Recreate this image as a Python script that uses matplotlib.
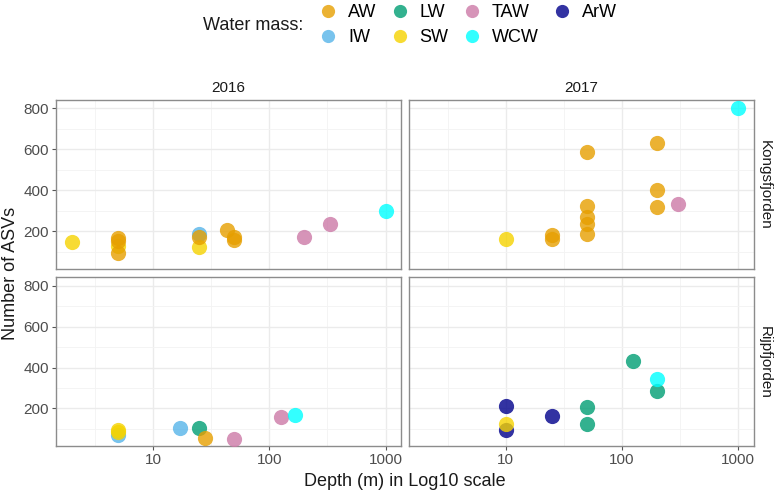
import matplotlib
matplotlib.use("Agg")
import matplotlib.pyplot as plt
from matplotlib.lines import Line2D
from matplotlib.ticker import FixedLocator, NullFormatter

plt.rcParams["font.family"] = ["Liberation Sans", "DejaVu Sans"]

# water masses, in legend order, with colours
masses = ["AW", "LW", "TAW", "ArW", "IW", "SW", "WCW"]
colours = {
    "AW": "#E69F00", "LW": "#009E73", "TAW": "#CC79A7", "ArW": "#00008B",
    "IW": "#56B4E9", "SW": "#F5D300", "WCW": "#00FFFF",
}
draw_order = ["ArW", "IW", "SW", "LW", "AW", "TAW", "WCW"]

years = ["2016", "2017"]
fjords = ["Kongsfjorden", "Rijpfjorden"]

# (fjord, year) -> water mass -> (depths, ASVs)
kongs_2016 = {
    "SW": ([2, 5, 25], [148, 125, 124]),
    "AW": ([5, 5, 5, 25, 43, 50, 50], [165, 150, 95, 172, 205, 172, 158]),
    "IW": ([25], [184]),
    "TAW": ([200, 330], [172, 232]),
    "WCW": ([1000], [298]),
}
kongs_2017 = {
    "SW": ([10], [161]),
    "AW": ([25, 25, 50, 50, 50, 50, 50, 200, 200, 200],
           [181, 163, 584, 322, 269, 232, 185, 628, 402, 318]),
    "TAW": ([300], [334]),
    "WCW": ([1000], [802]),
}
rijp_2016 = {
    "IW": ([5, 17], [70, 106]),
    "SW": ([5, 5], [85, 95]),
    "LW": ([25], [105]),
    "AW": ([28], [56]),
    "TAW": ([50, 125], [52, 160]),
    "WCW": ([168], [170]),
}
rijp_2017 = {
    "ArW": ([10, 10, 25], [211, 97, 162]),
    "SW": ([10], [123]),
    "LW": ([50, 50, 125, 200], [206, 123, 433, 284]),
    "WCW": ([200], [342]),
}
panels = {
    ("Kongsfjorden", "2016"): kongs_2016,
    ("Kongsfjorden", "2017"): kongs_2017,
    ("Rijpfjorden", "2016"): rijp_2016,
    ("Rijpfjorden", "2017"): rijp_2017,
}

fig, axes = plt.subplots(2, 2, figsize=(7.78, 4.92), dpi=100, sharex=True, sharey=True)
fig.subplots_adjust(left=0.072, right=0.9692, top=0.7967, bottom=0.0925,
                    wspace=0.022, hspace=0.05)

for i, fjord in enumerate(fjords):
    for j, year in enumerate(years):
        ax = axes[i, j]
        data = panels[(fjord, year)]
        for m in draw_order:
            if m in data:
                x, y = data[m]
                ax.scatter(x, y, s=120, color=colours[m], alpha=0.8,
                           linewidths=0, zorder=3)
        ax.set_xscale("log")
        ax.set_xlim(10 ** 0.166, 10 ** 3.135)
        ax.set_ylim(14.5, 839.5)
        ax.xaxis.set_major_locator(FixedLocator([10, 100, 1000]))
        ax.xaxis.set_minor_locator(FixedLocator([10 ** 0.5, 10 ** 1.5, 10 ** 2.5]))
        ax.xaxis.set_minor_formatter(NullFormatter())
        ax.set_xticklabels(["10", "100", "1000"])
        ax.yaxis.set_major_locator(FixedLocator([200, 400, 600, 800]))
        ax.yaxis.set_minor_locator(FixedLocator([100, 300, 500, 700]))
        ax.grid(which="major", color="#EBEBEB", lw=1.0, zorder=0)
        ax.grid(which="minor", color="#F3F3F3", lw=0.6, zorder=0)
        ax.set_axisbelow(True)
        for sp in ax.spines.values():
            sp.set_color("#8C8C8C")
            sp.set_linewidth(1.0)
        ax.tick_params(which="major", length=3, width=0.8, color="#555555",
                       labelcolor="#4D4D4D", labelsize=11, pad=2)
        ax.tick_params(which="minor", length=0)
        # facets: only outer panels carry ticks
        if i == 0:
            ax.tick_params(which="major", bottom=False)
            ax.set_title(year, fontsize=11, color="#1A1A1A", pad=6)
        if j == 1:
            ax.tick_params(which="major", left=False)
            ax.text(1.03, 0.5, fjord, transform=ax.transAxes, rotation=-90,
                    ha="center", va="center", fontsize=11, color="#1A1A1A")

fig.text(0.5 * (0.072 + 0.9692), 1 - 481 / 492, "Depth (m) in Log10 scale",
         ha="center", va="center", fontsize=13, color="#1A1A1A")
fig.text(11 / 778, 0.5 * (0.7967 + 0.0925), "Number of ASVs", rotation=90,
         ha="center", va="center", fontsize=13, color="#1A1A1A")

# legend: column-major fill so rows read AW LW TAW ArW / IW SW WCW
leg_order = ["AW", "IW", "LW", "SW", "TAW", "WCW", "ArW"]
handles = [Line2D([], [], ls="", marker="o", markersize=9.5, markeredgewidth=0,
                  color=colours[m], alpha=0.8) for m in leg_order]
fig.legend(handles, leg_order, ncol=4, frameon=False, loc="center left",
           bbox_to_anchor=(319 / 778, 1 - 25 / 492), fontsize=13,
           handletextpad=0.6, columnspacing=0.8, labelspacing=0.45,
           handlelength=1.0, borderaxespad=0, borderpad=0)
fig.text(203 / 778, 1 - 25 / 492, "Water mass:", ha="left", va="center",
         fontsize=13, color="#1A1A1A")

fig.savefig("out.png", dpi=100)
